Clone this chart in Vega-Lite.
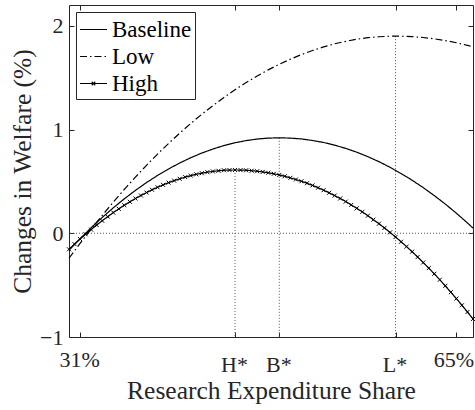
{
  "$schema": "https://vega.github.io/schema/vega-lite/v6.json",
  "width": 404,
  "height": 332,
  "autosize": {"type": "none"},
  "padding": {"left": 69, "top": 5, "right": 2, "bottom": 73},
  "config": {
    "view": {"stroke": "#262626", "strokeWidth": 1},
    "axis": {
      "labelFont": "Liberation Serif",
      "labelFontSize": 22,
      "labelColor": "#262626",
      "titleFont": "Liberation Serif",
      "titleFontSize": 25.5,
      "titleFontWeight": "normal",
      "titleColor": "#262626",
      "tickColor": "#262626",
      "grid": false,
      "domain": false
    }
  },
  "datasets": {
    "curves": [
      {"s": "Baseline", "x": 30, "y": -0.163},
      {"s": "Baseline", "x": 31, "y": -0.052},
      {"s": "Baseline", "x": 32, "y": 0.053},
      {"s": "Baseline", "x": 33, "y": 0.152},
      {"s": "Baseline", "x": 34, "y": 0.245},
      {"s": "Baseline", "x": 35, "y": 0.332},
      {"s": "Baseline", "x": 36, "y": 0.413},
      {"s": "Baseline", "x": 37, "y": 0.488},
      {"s": "Baseline", "x": 38, "y": 0.557},
      {"s": "Baseline", "x": 39, "y": 0.62},
      {"s": "Baseline", "x": 40, "y": 0.677},
      {"s": "Baseline", "x": 41, "y": 0.728},
      {"s": "Baseline", "x": 42, "y": 0.773},
      {"s": "Baseline", "x": 43, "y": 0.812},
      {"s": "Baseline", "x": 44, "y": 0.845},
      {"s": "Baseline", "x": 45, "y": 0.872},
      {"s": "Baseline", "x": 46, "y": 0.893},
      {"s": "Baseline", "x": 47, "y": 0.908},
      {"s": "Baseline", "x": 48, "y": 0.917},
      {"s": "Baseline", "x": 49, "y": 0.92},
      {"s": "Baseline", "x": 50, "y": 0.917},
      {"s": "Baseline", "x": 51, "y": 0.909},
      {"s": "Baseline", "x": 52, "y": 0.894},
      {"s": "Baseline", "x": 53, "y": 0.875},
      {"s": "Baseline", "x": 54, "y": 0.849},
      {"s": "Baseline", "x": 55, "y": 0.818},
      {"s": "Baseline", "x": 56, "y": 0.781},
      {"s": "Baseline", "x": 57, "y": 0.738},
      {"s": "Baseline", "x": 58, "y": 0.69},
      {"s": "Baseline", "x": 59, "y": 0.636},
      {"s": "Baseline", "x": 60, "y": 0.576},
      {"s": "Baseline", "x": 61, "y": 0.511},
      {"s": "Baseline", "x": 62, "y": 0.44},
      {"s": "Baseline", "x": 63, "y": 0.363},
      {"s": "Baseline", "x": 64, "y": 0.281},
      {"s": "Baseline", "x": 65, "y": 0.193},
      {"s": "Baseline", "x": 66, "y": 0.099},
      {"s": "Baseline", "x": 66.5, "y": 0.05},
      {"s": "Low", "x": 30, "y": -0.241},
      {"s": "Low", "x": 31, "y": -0.098},
      {"s": "Low", "x": 32, "y": 0.04},
      {"s": "Low", "x": 33, "y": 0.172},
      {"s": "Low", "x": 34, "y": 0.3},
      {"s": "Low", "x": 35, "y": 0.423},
      {"s": "Low", "x": 36, "y": 0.541},
      {"s": "Low", "x": 37, "y": 0.655},
      {"s": "Low", "x": 38, "y": 0.763},
      {"s": "Low", "x": 39, "y": 0.866},
      {"s": "Low", "x": 40, "y": 0.965},
      {"s": "Low", "x": 41, "y": 1.058},
      {"s": "Low", "x": 42, "y": 1.147},
      {"s": "Low", "x": 43, "y": 1.23},
      {"s": "Low", "x": 44, "y": 1.309},
      {"s": "Low", "x": 45, "y": 1.383},
      {"s": "Low", "x": 46, "y": 1.452},
      {"s": "Low", "x": 47, "y": 1.516},
      {"s": "Low", "x": 48, "y": 1.575},
      {"s": "Low", "x": 49, "y": 1.629},
      {"s": "Low", "x": 50, "y": 1.678},
      {"s": "Low", "x": 51, "y": 1.722},
      {"s": "Low", "x": 52, "y": 1.762},
      {"s": "Low", "x": 53, "y": 1.796},
      {"s": "Low", "x": 54, "y": 1.826},
      {"s": "Low", "x": 55, "y": 1.85},
      {"s": "Low", "x": 56, "y": 1.87},
      {"s": "Low", "x": 57, "y": 1.885},
      {"s": "Low", "x": 58, "y": 1.894},
      {"s": "Low", "x": 59, "y": 1.899},
      {"s": "Low", "x": 59.5, "y": 1.9},
      {"s": "Low", "x": 60, "y": 1.899},
      {"s": "Low", "x": 61, "y": 1.895},
      {"s": "Low", "x": 62, "y": 1.887},
      {"s": "Low", "x": 63, "y": 1.874},
      {"s": "Low", "x": 64, "y": 1.857},
      {"s": "Low", "x": 65, "y": 1.836},
      {"s": "Low", "x": 66, "y": 1.811},
      {"s": "Low", "x": 66.5, "y": 1.797},
      {"s": "High", "x": 30, "y": -0.155},
      {"s": "High", "x": 30.5, "y": -0.105},
      {"s": "High", "x": 31, "y": -0.056},
      {"s": "High", "x": 31.5, "y": -0.01},
      {"s": "High", "x": 32, "y": 0.035},
      {"s": "High", "x": 32.5, "y": 0.079},
      {"s": "High", "x": 33, "y": 0.12},
      {"s": "High", "x": 33.5, "y": 0.16},
      {"s": "High", "x": 34, "y": 0.199},
      {"s": "High", "x": 34.5, "y": 0.235},
      {"s": "High", "x": 35, "y": 0.27},
      {"s": "High", "x": 35.5, "y": 0.303},
      {"s": "High", "x": 36, "y": 0.335},
      {"s": "High", "x": 36.5, "y": 0.364},
      {"s": "High", "x": 37, "y": 0.392},
      {"s": "High", "x": 37.5, "y": 0.419},
      {"s": "High", "x": 38, "y": 0.443},
      {"s": "High", "x": 38.5, "y": 0.466},
      {"s": "High", "x": 39, "y": 0.488},
      {"s": "High", "x": 39.5, "y": 0.507},
      {"s": "High", "x": 40, "y": 0.525},
      {"s": "High", "x": 40.5, "y": 0.541},
      {"s": "High", "x": 41, "y": 0.556},
      {"s": "High", "x": 41.5, "y": 0.568},
      {"s": "High", "x": 42, "y": 0.579},
      {"s": "High", "x": 42.5, "y": 0.589},
      {"s": "High", "x": 43, "y": 0.596},
      {"s": "High", "x": 43.5, "y": 0.602},
      {"s": "High", "x": 44, "y": 0.607},
      {"s": "High", "x": 44.5, "y": 0.609},
      {"s": "High", "x": 45, "y": 0.61},
      {"s": "High", "x": 45.5, "y": 0.609},
      {"s": "High", "x": 46, "y": 0.607},
      {"s": "High", "x": 46.5, "y": 0.603},
      {"s": "High", "x": 47, "y": 0.598},
      {"s": "High", "x": 47.5, "y": 0.591},
      {"s": "High", "x": 48, "y": 0.583},
      {"s": "High", "x": 48.5, "y": 0.573},
      {"s": "High", "x": 49, "y": 0.562},
      {"s": "High", "x": 49.5, "y": 0.549},
      {"s": "High", "x": 50, "y": 0.534},
      {"s": "High", "x": 50.5, "y": 0.518},
      {"s": "High", "x": 51, "y": 0.501},
      {"s": "High", "x": 51.5, "y": 0.482},
      {"s": "High", "x": 52, "y": 0.461},
      {"s": "High", "x": 52.5, "y": 0.439},
      {"s": "High", "x": 53, "y": 0.415},
      {"s": "High", "x": 53.5, "y": 0.39},
      {"s": "High", "x": 54, "y": 0.363},
      {"s": "High", "x": 54.5, "y": 0.335},
      {"s": "High", "x": 55, "y": 0.305},
      {"s": "High", "x": 55.5, "y": 0.273},
      {"s": "High", "x": 56, "y": 0.24},
      {"s": "High", "x": 56.5, "y": 0.206},
      {"s": "High", "x": 57, "y": 0.169},
      {"s": "High", "x": 57.5, "y": 0.131},
      {"s": "High", "x": 58, "y": 0.092},
      {"s": "High", "x": 58.5, "y": 0.051},
      {"s": "High", "x": 59, "y": 0.008},
      {"s": "High", "x": 59.5, "y": -0.036},
      {"s": "High", "x": 60, "y": -0.082},
      {"s": "High", "x": 60.5, "y": -0.129},
      {"s": "High", "x": 61, "y": -0.178},
      {"s": "High", "x": 61.5, "y": -0.229},
      {"s": "High", "x": 62, "y": -0.282},
      {"s": "High", "x": 62.5, "y": -0.336},
      {"s": "High", "x": 63, "y": -0.391},
      {"s": "High", "x": 63.5, "y": -0.448},
      {"s": "High", "x": 64, "y": -0.507},
      {"s": "High", "x": 64.5, "y": -0.568},
      {"s": "High", "x": 65, "y": -0.63},
      {"s": "High", "x": 65.5, "y": -0.694},
      {"s": "High", "x": 66, "y": -0.759},
      {"s": "High", "x": 66.5, "y": -0.826}
    ],
    "refs": [
      {"x": 45, "top": 0.61},
      {"x": 49, "top": 0.92},
      {"x": 59.5, "top": 1.9}
    ]
  },
  "layer": [
    {
      "data": {"values": [{"v": 0}]},
      "mark": {"type": "rule", "strokeDash": [1, 2], "color": "#555", "strokeWidth": 1},
      "encoding": {
        "y": {"field": "v", "type": "quantitative", "axis": null, "scale": {"domain": [-1, 2.2], "nice": false, "zero": false}}
      }
    },
    {
      "data": {"name": "refs"},
      "mark": {"type": "rule", "strokeDash": [1, 2], "color": "#555", "strokeWidth": 1},
      "encoding": {
        "x": {"field": "x", "type": "quantitative", "axis": null},
        "y": {"field": "top", "type": "quantitative", "axis": null},
        "y2": {"datum": -1}
      }
    },
    {
      "data": {"name": "curves"},
      "mark": {"type": "line", "color": "black", "strokeWidth": 1.2},
      "encoding": {
        "x": {
          "field": "x", "type": "quantitative",
          "scale": {"domain": [30, 66.5], "nice": false, "zero": false},
          "axis": {
            "values": [31, 45, 49, 59.5, 65],
            "labelExpr": "datum.value == 31 ? '31%' : datum.value == 45 ? 'H*' : datum.value == 49 ? 'B*' : datum.value == 59.5 ? 'L*' : '65%'",
            "tickSize": -5,
            "labelPadding": {"condition": {"test": "datum.value == 31 || datum.value == 65", "value": 17}, "value": 22},
            "labelOffset": {"condition": {"test": "datum.value == 65", "value": -3}, "value": -1},
            "title": "Research Expenditure Share",
            "titlePadding": 3
          }
        },
        "y": {
          "field": "y", "type": "quantitative",
          "axis": {
            "values": [-1, 0, 1, 2],
            "tickSize": -5,
            "labelPadding": 11,
            "title": "Changes in Welfare (%)",
            "titlePadding": 4
          }
        },
        "strokeDash": {
          "field": "s", "type": "nominal",
          "scale": {"domain": ["Baseline", "Low", "High"], "range": [[1, 0], [7, 3, 1.5, 3], [1, 0]]},
          "legend": {
            "orient": "top-left",
            "offset": 7,
            "title": null,
            "padding": 3,
            "rowPadding": 0,
            "strokeColor": "#262626",
            "fillColor": "white",
            "symbolType": "stroke",
            "symbolSize": 729,
            "symbolStrokeColor": "black",
            "symbolStrokeWidth": 1.2,
            "labelFont": "Liberation Serif",
            "labelFontSize": 23,
            "labelColor": "black",
            "labelOffset": 4,
            "encode": {
              "symbols": {
                "update": {
                  "shape": {"signal": "datum.value === 'High' ? 'M-1,0H1M-0.13,-0.13L0.13,0.13M-0.13,0.13L0.13,-0.13' : 'M-1,0H1'"}
                }
              }
            }
          }
        }
      }
    },
    {
      "data": {"name": "curves"},
      "transform": [{"filter": "datum.s === 'High'"}],
      "mark": {"type": "point", "shape": "M-1,-1L1,1M-1,1L1,-1", "filled": false, "color": "black", "strokeWidth": 1, "size": 16, "opacity": 1},
      "encoding": {
        "x": {"field": "x", "type": "quantitative", "axis": {"orient": "top", "values": [31, 45, 49, 59.5, 65], "labels": false, "tickSize": -5, "title": null}},
        "y": {"field": "y", "type": "quantitative", "axis": {"orient": "right", "values": [-1, 0, 1, 2], "labels": false, "tickSize": -5, "title": null}}
      }
    }
  ],
  "resolve": {"axis": {"x": "independent", "y": "independent"}}
}
